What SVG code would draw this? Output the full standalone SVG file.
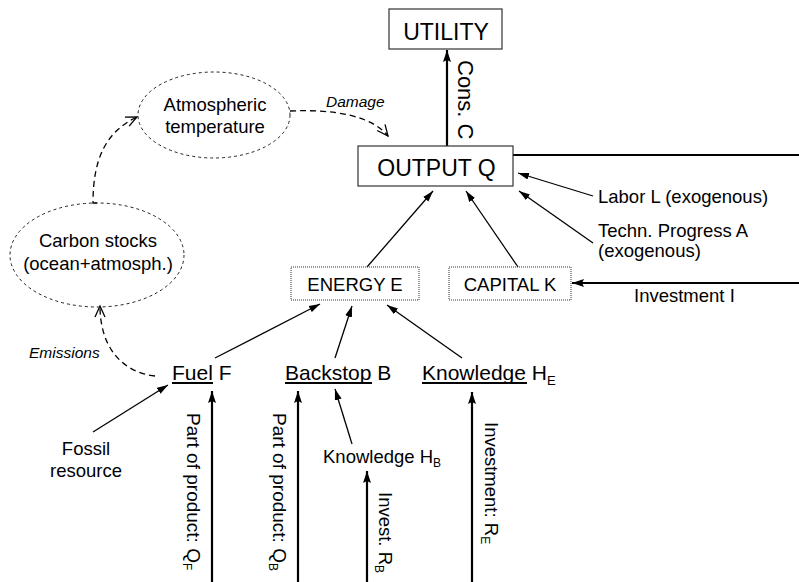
<svg xmlns="http://www.w3.org/2000/svg" width="799" height="582" viewBox="0 0 799 582">
<defs>
<style>
text{font-family:"Liberation Sans",Arial,sans-serif;fill:#000}
.big{font-size:23px}
.mid{font-size:18.5px}
.lg{font-size:21px}
.it{font-size:15.5px;font-style:italic}
.box{fill:#fff;stroke:#333;stroke-width:1.2}
.dbox{fill:#fff;stroke:#333;stroke-width:1;stroke-dasharray:1 1}
.ell{fill:none;stroke:#222;stroke-width:1;stroke-dasharray:3 3}
.thin{stroke:#000;stroke-width:1.3;fill:none;marker-end:url(#ah)}
.thick{stroke:#000;stroke-width:2.2;fill:none}
.dash{stroke:#000;stroke-width:1.3;fill:none;stroke-dasharray:6 4;marker-end:url(#open)}
.ul{stroke:#000;stroke-width:2}
</style>
<marker id="ah" markerUnits="userSpaceOnUse" markerWidth="12" markerHeight="8" refX="11" refY="4" orient="auto">
<path d="M0,0.5 L11,4 L0,7.5 z" fill="#000"/>
</marker>
<marker id="ahb" markerUnits="userSpaceOnUse" markerWidth="13" markerHeight="9" refX="12" refY="4.5" orient="auto">
<path d="M0,0.5 L12,4.5 L0,8.5 L2,4.5 z" fill="#000"/>
</marker>
<marker id="open" markerUnits="userSpaceOnUse" markerWidth="14" markerHeight="12" refX="12" refY="6" orient="auto">
<path d="M1,1 L12,6 L1,11" fill="none" stroke="#000" stroke-width="1.3"/>
</marker>
</defs>

<g id="connectors">
<line class="thick" x1="447" y1="146" x2="447" y2="50" marker-end="url(#ahb)"/>
<line class="thick" x1="513" y1="155" x2="799" y2="155"/>
<line class="thick" x1="799" y1="283" x2="572" y2="283" marker-end="url(#ahb)"/>
<line class="thin" x1="593" y1="196" x2="518" y2="173"/>
<line class="thin" x1="593" y1="243" x2="519" y2="191"/>
<line class="thin" x1="367" y1="267" x2="433" y2="191"/>
<line class="thin" x1="518" y1="267" x2="466" y2="191"/>
<line class="thin" x1="215" y1="358" x2="320" y2="304"/>
<line class="thin" x1="335" y1="358" x2="352" y2="306"/>
<line class="thin" x1="462" y1="358" x2="387" y2="305"/>
<line class="thin" x1="93" y1="432" x2="168" y2="385"/>
<line class="thin" x1="352" y1="444" x2="335" y2="389"/>
<line class="thick" x1="212" y1="582" x2="212" y2="391" marker-end="url(#ahb)"/>
<line class="thick" x1="298" y1="582" x2="298" y2="391" marker-end="url(#ahb)"/>
<line class="thick" x1="367" y1="582" x2="367" y2="471" marker-end="url(#ahb)"/>
<line class="thick" x1="472" y1="582" x2="472" y2="392" marker-end="url(#ahb)"/>
<path class="dash" d="M290,111 C335,109 372,116 388,136"/>
<path class="dash" d="M97,203 L93,203 C93,160 105,132 137,117"/>
<path class="dash" d="M155,376 C120,372 100,345 100,306"/>
<text class="it" x="326" y="107">Damage</text>
<text class="it" x="29" y="358">Emissions</text>
<text style="font-size:22px" transform="translate(458,60) rotate(90)">Cons. C</text>
<text class="mid" x="598" y="203">Labor L (exogenous)</text>
<text class="mid" x="598" y="236.5">Techn. Progress A</text>
<text class="mid" x="598" y="257">(exogenous)</text>
<text class="mid" x="634" y="302">Investment I</text>
<text style="font-size:19px" transform="translate(187,413) rotate(90)">Part of product: Q<tspan font-size="12" dy="4">F</tspan></text>
<text style="font-size:19px" transform="translate(273,413) rotate(90)">Part of product: Q<tspan font-size="12" dy="4">B</tspan></text>
<text class="mid" transform="translate(379,492) rotate(90)">Invest. R<tspan font-size="12" dy="4">B</tspan></text>
<text class="mid" transform="translate(485,422) rotate(90)">Investment: R<tspan font-size="12" dy="4">E</tspan></text>
</g>

<g id="utility">
<rect class="box" x="389" y="9" width="113" height="40"/>
<text class="big" x="446" y="39.5" text-anchor="middle">UTILITY</text>
</g>
<g id="output">
<rect class="box" x="358" y="146" width="155" height="40"/>
<text class="big" x="436.5" y="176" text-anchor="middle">OUTPUT Q</text>
</g>
<g id="energy">
<rect class="dbox" x="291" y="267" width="128" height="33"/>
<text class="mid" x="355" y="290.5" text-anchor="middle">ENERGY E</text>
</g>
<g id="capital">
<rect class="dbox" x="449" y="267" width="122" height="33"/>
<text class="mid" x="510" y="290.5" text-anchor="middle">CAPITAL K</text>
</g>
<g id="atmos">
<ellipse class="ell" cx="214" cy="115" rx="76" ry="43"/>
<text class="mid" x="215" y="111" text-anchor="middle">Atmospheric</text>
<text class="mid" x="215" y="133" text-anchor="middle">temperature</text>
</g>
<g id="carbon">
<ellipse class="ell" cx="97" cy="255" rx="87" ry="52"/>
<text class="mid" x="98" y="247" text-anchor="middle">Carbon stocks</text>
<text class="mid" x="98" y="270" text-anchor="middle">(ocean+atmosph.)</text>
</g>
<g id="fuel">
<text class="lg" x="172" y="379.5">Fuel F</text>
<line class="ul" x1="172" y1="383" x2="213" y2="383"/>
</g>
<g id="backstop">
<text class="lg" x="285" y="379.5">Backstop B</text>
<line class="ul" x1="285" y1="383" x2="372" y2="383"/>
</g>
<g id="knowledgeE">
<text class="lg" x="422" y="379.5">Knowledge H<tspan font-size="13" dy="5">E</tspan></text>
<line class="ul" x1="422" y1="383" x2="527" y2="383"/>
</g>
<g id="fossil">
<text class="mid" x="86" y="455" text-anchor="middle">Fossil</text>
<text class="mid" x="86" y="477" text-anchor="middle">resource</text>
</g>
<g id="knowledgeB">
<text class="mid" x="323" y="463">Knowledge H<tspan font-size="12" dy="4">B</tspan></text>
</g>
</svg>
